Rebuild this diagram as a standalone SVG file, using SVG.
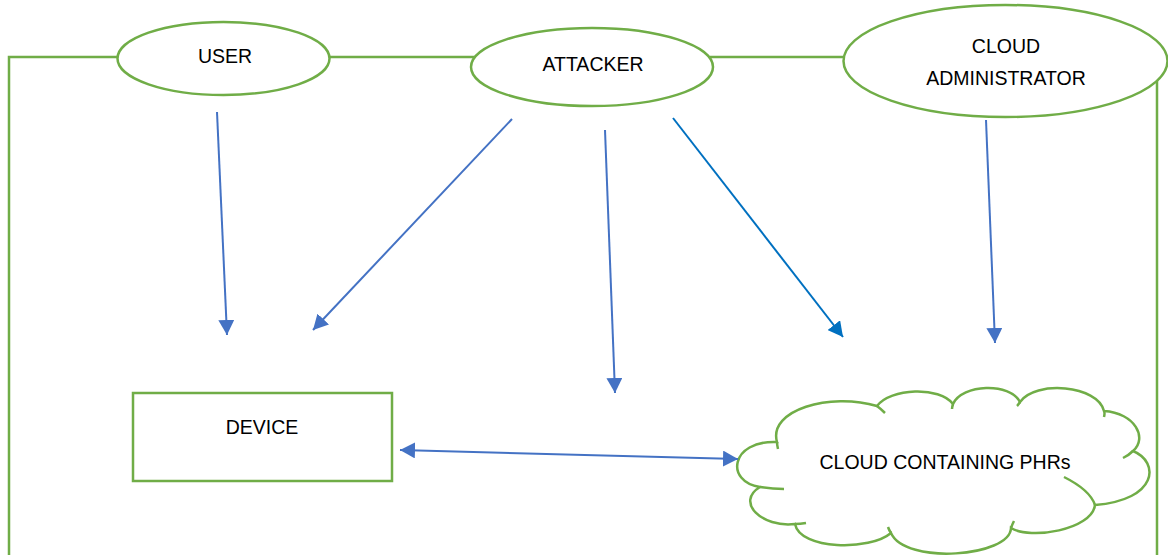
<svg xmlns="http://www.w3.org/2000/svg" width="1168" height="555" viewBox="0 0 1168 555">
<style>
.g{fill:none;stroke:#70AD47;stroke-width:2.5}
.gn{fill:#fff;stroke:#70AD47;stroke-width:2.5}
.b{fill:none;stroke:#4472C4;stroke-width:2}
.b2{fill:none;stroke:#0070C0;stroke-width:2}
text{font-family:"Liberation Sans",Arial,sans-serif;font-size:19.5px;fill:#000;text-anchor:middle}
</style>
<defs>
<marker id="ah" markerUnits="userSpaceOnUse" markerWidth="16" markerHeight="16" refX="15" refY="8" orient="auto-start-reverse" viewBox="0 0 16 16"><path d="M0,0 L15,8 L0,16 Z" fill="#4472C4"/></marker>
<marker id="ah2" markerUnits="userSpaceOnUse" markerWidth="16" markerHeight="16" refX="15" refY="8" orient="auto" viewBox="0 0 16 16"><path d="M0,0 L15,8 L0,16 Z" fill="#0070C0"/></marker>
</defs>
<rect width="1168" height="555" fill="#fff"/>
<g id="frame">
<polyline class="g" points="9,556 9,57 120,57"/>
<line class="g" x1="328" y1="57" x2="478" y2="57"/>
<line class="g" x1="710" y1="57" x2="846" y2="57"/>
<line class="g" x1="1157" y1="78" x2="1157" y2="556"/>
</g>
<g id="user">
<ellipse class="gn" cx="223.5" cy="58.5" rx="106" ry="36.5"/>
<text x="225" y="63">USER</text>
</g>
<g id="attacker">
<ellipse class="gn" cx="592" cy="67" rx="121" ry="39"/>
<text x="593" y="71">ATTACKER</text>
</g>
<g id="cloud-admin">
<ellipse class="gn" cx="1005.5" cy="61" rx="162" ry="56"/>
<text x="1006" y="53">CLOUD</text>
<text x="1006" y="85">ADMINISTRATOR</text>
</g>
<g id="device">
<rect class="gn" x="133" y="393" width="259" height="88"/>
<text x="262" y="434">DEVICE</text>
</g>
<g id="cloud">
<path class="gn" d="M777,442 C768,410 830,392 877,406 C890,388 940,386 953,404 C962,384 1010,382 1020,402 C1035,380 1098,385 1104,411 C1135,413 1148,438 1133,451 C1160,462 1158,500 1095,505 C1092,530 1030,540 1011,528 C1010,557 905,565 891,533 C870,551 800,550 795,524 C762,528 735,502 760,487 C725,482 730,440 777,442 Z"/>
<path class="g" d="M877,406 Q881,409 885,413 M953,404 Q952,407 952,409 M1020,402 Q1018,405 1017,406 M1104,411 Q1105,413 1104,417 M1133,451 Q1129,455 1123,458 M1095,505 Q1090,490 1064,477 M1011,528 Q1012,525 1014,521 M891,533 Q889,530 888,527 M795,524 Q800,524 806,523 M760,487 Q772,489 784,489 M777,442 Q777,445 778,449"/>
<text x="945" y="469">CLOUD CONTAINING PHRs</text>
</g>
<g id="connectors">
<line class="b" x1="217" y1="112" x2="227" y2="335" marker-end="url(#ah)"/>
<line class="b" x1="512" y1="119" x2="313" y2="330" marker-end="url(#ah)"/>
<line class="b" x1="605" y1="130" x2="615" y2="393" marker-end="url(#ah)"/>
<line class="b2" x1="673" y1="118" x2="843" y2="337" marker-end="url(#ah2)"/>
<line class="b" x1="986" y1="120" x2="995" y2="343" marker-end="url(#ah)"/>
<line class="b" x1="400" y1="450" x2="738" y2="459" marker-start="url(#ah)" marker-end="url(#ah)"/>
</g>
</svg>
